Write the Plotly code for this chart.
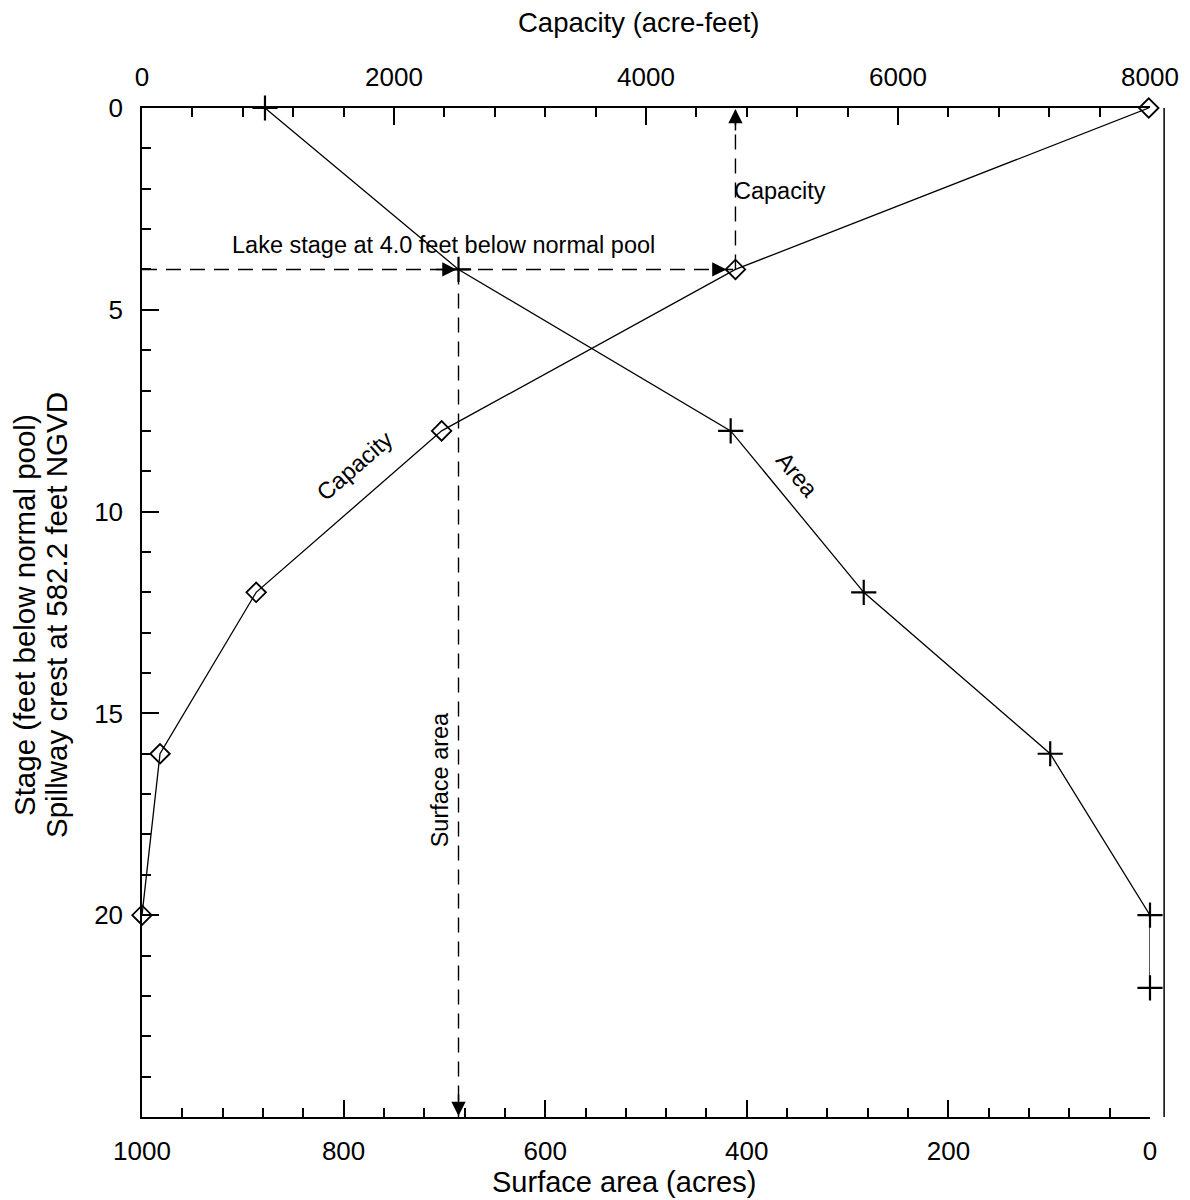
import plotly.graph_objects as go

# ---- data ----
cap_stage = [0, 4, 8, 12, 16, 20]
capacity = [7990, 4710, 2378, 906, 143, 0]          # acre-feet
area_stage = [0, 4, 8, 12, 16, 20, 21.8]
area = [878, 686, 416, 284, 99, 0, 0]               # acres
lake_stage = 4.0
area_ticks = [1000, 800, 600, 400, 200, 0]
cap_ticks = [0, 2000, 4000, 6000, 8000]
stage_ticks = [0, 5, 10, 15, 20]

FONT = "Liberation Sans, Arial, sans-serif"
BLK = "black"

fig = go.Figure()
fig.add_trace(go.Scatter(
    x=area, y=area_stage, xaxis="x", yaxis="y", mode="lines+markers", cliponaxis=False,
    line=dict(color=BLK, width=1.3),
    marker=dict(symbol="cross-thin-open", size=18, line=dict(color=BLK, width=2.2)),
    showlegend=False, hoverinfo="skip"))
fig.add_trace(go.Scatter(
    x=capacity, y=cap_stage, xaxis="x2", yaxis="y", mode="lines+markers", cliponaxis=False,
    line=dict(color=BLK, width=1.3),
    marker=dict(symbol="diamond-open", size=15, color=BLK, line=dict(color=BLK, width=1.8)),
    showlegend=False, hoverinfo="skip"))

axis_common = dict(showgrid=False, zeroline=False, showline=True, linecolor=BLK, linewidth=1.5,
                   ticks="inside", ticklen=17, tickwidth=1.5, tickcolor=BLK, automargin=False,
                   tickfont=dict(family=FONT, size=26, color=BLK))
minor_common = dict(tickmode="linear", tick0=0, ticks="inside", ticklen=9, tickwidth=1.5, tickcolor=BLK)

fig.update_layout(
    width=1190, height=1200,
    margin=dict(l=134, r=48, t=100, b=91),
    paper_bgcolor="white", plot_bgcolor="white",
    font=dict(family=FONT, size=23, color=BLK),
    xaxis=dict(range=[1000, 0], tickmode="array", tickvals=area_ticks,
               minor=dict(dtick=40, **minor_common), ticklabelstandoff=10, **axis_common),
    xaxis2=dict(range=[0, 8000], overlaying="x", side="top", tickmode="array", tickvals=cap_ticks,
                minor=dict(dtick=400, **minor_common), ticklabelstandoff=10, **axis_common),
    yaxis=dict(range=[25, 0], tickmode="array", tickvals=stage_ticks,
               minor=dict(dtick=1, **minor_common), ticklabelstandoff=12, **axis_common),
)

dash = "15px,9px"
# horizontal dashed line at the lake stage, from axis to capacity curve
fig.add_shape(type="line", xref="x2", yref="y", x0=0, x1=capacity[1], y0=lake_stage, y1=lake_stage,
              line=dict(color=BLK, width=1.4, dash=dash))
# vertical dashed down to surface area axis
fig.add_shape(type="line", xref="x", yref="y", x0=area[1], x1=area[1], y0=lake_stage, y1=25,
              line=dict(color=BLK, width=1.4, dash=dash))
# vertical dashed up to capacity axis
fig.add_shape(type="line", xref="x2", yref="y", x0=capacity[1], x1=capacity[1], y0=lake_stage, y1=0,
              line=dict(color=BLK, width=1.4, dash=dash))
# right border line
fig.add_shape(type="line", xref="paper", yref="paper", x0=1.014, x1=1.014, y0=0, y1=1,
              line=dict(color=BLK, width=1.5))

arrow = dict(showarrow=True, arrowhead=2, arrowsize=1.9, arrowwidth=1.5, arrowcolor=BLK, text="")
fig.add_annotation(x=area[1], y=lake_stage, xref="x", yref="y", ax=-24, ay=0, standoff=2, **arrow)
fig.add_annotation(x=capacity[1], y=lake_stage, xref="x2", yref="y", ax=-24, ay=0, standoff=9, **arrow)
fig.add_annotation(x=area[1], y=25, xref="x", yref="y", ax=0, ay=-24, standoff=1, **arrow)
fig.add_annotation(x=capacity[1], y=0, xref="x2", yref="y", ax=0, ay=24, standoff=1, **arrow)

txt = dict(showarrow=False, font=dict(family=FONT, size=23.5, color=BLK))
fig.add_annotation(text="Lake stage at 4.0 feet below normal pool", x=701, y=3.39, xref="x", yref="y", **txt)
fig.add_annotation(text="Capacity", x=4684, y=2.06, xref="x2", yref="y", xanchor="left", **txt)
fig.add_annotation(text="Capacity", x=789, y=8.87, xref="x", yref="y", textangle=-41, **txt)
fig.add_annotation(text="Area", x=350, y=9.09, xref="x", yref="y", textangle=50, **txt)
fig.add_annotation(text="Surface area", x=704, y=16.65, xref="x", yref="y", textangle=-90, **txt)

# axis titles
ttl = dict(showarrow=False, xref="paper", yref="paper", font=dict(family=FONT, size=27.5, color=BLK))
fig.add_annotation(text="Capacity (acre-feet)", x=0.5, y=1, xanchor="center", yanchor="middle",
                   xshift=-8, yshift=86, **ttl)
ttl_b = dict(showarrow=False, xref="paper", yref="paper", font=dict(family=FONT, size=29, color=BLK))
fig.add_annotation(text="Surface area (acres)", x=0.5, y=0, xanchor="center", yanchor="middle",
                   xshift=-22, yshift=-65, **ttl_b)
ttl_y = dict(showarrow=False, xref="paper", yref="paper", font=dict(family=FONT, size=29.5, color=BLK))
fig.add_annotation(text="Stage (feet below normal pool)", x=0, y=0.4975, xanchor="center", yanchor="middle",
                   textangle=-90, xshift=-118, **ttl_y)
fig.add_annotation(text="Spillway crest at 582.2 feet NGVD", x=0, y=0.4975, xanchor="center", yanchor="middle",
                   textangle=-90, xshift=-86, **ttl_y)

fig.write_html("out.html")
